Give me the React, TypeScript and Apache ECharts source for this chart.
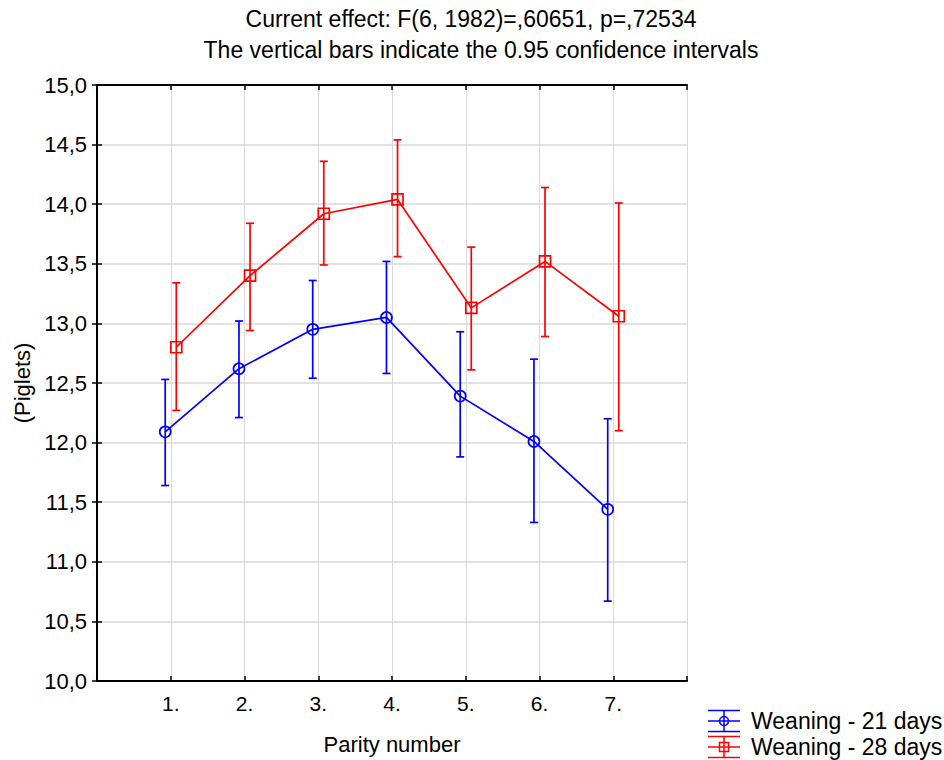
import React, { useEffect, useRef } from "react";
import * as echarts from "echarts";

const parity = [1, 2, 3, 4, 5, 6, 7];
const w21Mean = [12.09, 12.62, 12.95, 13.05, 12.39, 12.01, 11.44];
const w21Low = [11.64, 12.21, 12.54, 12.58, 11.88, 11.33, 10.67];
const w21High = [12.53, 13.02, 13.36, 13.52, 12.93, 12.70, 12.20];
const w28Mean = [12.80, 13.40, 13.92, 14.04, 13.13, 13.52, 13.06];
const w28Low = [12.27, 12.94, 13.49, 13.56, 12.61, 12.89, 12.10];
const w28High = [13.34, 13.84, 14.36, 14.54, 13.64, 14.14, 14.01];
const seriesNames = ["Weaning - 21 days", "Weaning - 28 days"];
const titleLines = [
  "Current effect: F(6, 1982)=,60651, p=,72534",
  "The vertical bars indicate the 0.95 confidence intervals",
];

const FONT = "'Liberation Sans', Arial, sans-serif";
const BLUE = "#0000ff";
const RED = "#ff0000";

export default function App() {
  const ref = useRef<HTMLDivElement>(null);
  useEffect(() => {
    if (!ref.current) return;
    const chart = echarts.init(ref.current, null, { renderer: "svg" });
    const offset = 0.075;
    const mk = (mean: number[], dx: number) => parity.map((p, i) => [p + dx, mean[i]]);
    const mkErr = (lo: number[], hi: number[], dx: number) =>
      parity.map((p, i) => [p + dx, lo[i], hi[i]]);

    const errSeries = (data: number[][], color: string) => ({
      type: "custom",
      data,
      z: 5,
      encode: { x: 0, y: [1, 2] },
      renderItem: (params: any, api: any) => {
        const x = api.value(0);
        const lo = api.coord([x, api.value(1)]);
        const hi = api.coord([x, api.value(2)]);
        const cw = 4;
        const style = { stroke: color, lineWidth: 1.7 };
        return {
          type: "group",
          children: [
            { type: "line", shape: { x1: lo[0], y1: lo[1], x2: hi[0], y2: hi[1] }, style },
            { type: "line", shape: { x1: lo[0] - cw, y1: lo[1], x2: lo[0] + cw, y2: lo[1] }, style },
            { type: "line", shape: { x1: hi[0] - cw, y1: hi[1], x2: hi[0] + cw, y2: hi[1] }, style },
          ],
        };
      },
    });

    const axisCommonX = {
      type: "value",
      min: 0,
      max: 8,
      interval: 1,
      axisLine: { show: true, lineStyle: { color: "#000", width: 2 } },
      axisTick: { show: true, inside: true, length: 5, lineStyle: { color: "#000", width: 1.5 } },
    };
    const axisCommonY = {
      type: "value",
      min: 10,
      max: 15,
      interval: 0.5,
      axisLine: { show: true, lineStyle: { color: "#000", width: 2 } },
      axisTick: { show: true, inside: true, length: 5, lineStyle: { color: "#000", width: 1.5 } },
    };

    const legendY = [721, 747];
    const legendColors = [BLUE, RED];
    const legendGraphics: any[] = [];
    legendColors.forEach((c, i) => {
      const y = legendY[i];
      const st = { stroke: c, lineWidth: 1.5, fill: "none" };
      legendGraphics.push(
        { type: "line", shape: { x1: 708, y1: y, x2: 740, y2: y }, style: st },
        { type: "line", shape: { x1: 708, y1: y - 10.5, x2: 740, y2: y - 10.5 }, style: st },
        { type: "line", shape: { x1: 708, y1: y + 10.5, x2: 740, y2: y + 10.5 }, style: st },
        { type: "line", shape: { x1: 724, y1: y - 10.5, x2: 724, y2: y + 10.5 }, style: st },
        i === 0
          ? { type: "circle", shape: { cx: 724, cy: y, r: 4.5 }, style: st }
          : { type: "rect", shape: { x: 719.5, y: y - 4.5, width: 9, height: 9 }, style: st },
        {
          type: "text",
          x: 751,
          y,
          style: { text: seriesNames[i], font: `23px ${FONT}`, fill: "#000", textVerticalAlign: "middle" },
        }
      );
    });

    chart.setOption({
      animation: false,
      backgroundColor: "#fff",
      title: [
        { text: titleLines[0], left: 466, top: 2, textAlign: "center", textStyle: { fontFamily: FONT, fontSize: 23, fontWeight: "normal", color: "#000" } },
        { text: titleLines[1], left: 476, top: 33, textAlign: "center", textStyle: { fontFamily: FONT, fontSize: 23, fontWeight: "normal", color: "#000" } },
      ],
      grid: { left: 97, top: 85, right: 257, bottom: 79, containLabel: false },
      xAxis: [
        {
          ...axisCommonX,
          position: "bottom",
          name: "Parity number",
          nameLocation: "middle",
          nameGap: 52,
          nameTextStyle: { fontFamily: FONT, fontSize: 22, color: "#000" },
          axisLabel: {
            fontFamily: FONT,
            fontSize: 21,
            color: "#000",
            margin: 12,
            formatter: (v: number) => (v >= 1 && v <= 7 ? `${v}.` : ""),
          },
          splitLine: { show: true, lineStyle: { color: "#d9d9d9", width: 1 } },
        },
        {
          ...axisCommonX,
          position: "top",
          axisLabel: { show: false },
          splitLine: { show: false },
        },
      ],
      yAxis: [
        {
          ...axisCommonY,
          position: "left",
          name: "(Piglets)",
          nameLocation: "middle",
          nameGap: 64,
          nameTextStyle: { fontFamily: FONT, fontSize: 22, color: "#000" },
          axisLabel: {
            fontFamily: FONT,
            fontSize: 22,
            color: "#000",
            margin: 10,
            formatter: (v: number) => v.toFixed(1).replace(".", ","),
          },
          splitLine: { show: true, lineStyle: { color: "#d9d9d9", width: 1.5 } },
        },
        {
          ...axisCommonY,
          position: "right",
          axisLabel: { show: false },
          splitLine: { show: false },
        },
      ],
      series: [
        {
          name: seriesNames[0],
          type: "line",
          data: mk(w21Mean, -offset),
          symbol: "circle",
          symbolSize: 11,
          lineStyle: { color: BLUE, width: 1.7 },
          itemStyle: { color: "rgba(0,0,0,0)", borderColor: BLUE, borderWidth: 1.7 },
          z: 3,
        },
        {
          name: seriesNames[1],
          type: "line",
          data: mk(w28Mean, offset),
          symbol: "rect",
          symbolSize: 11,
          lineStyle: { color: RED, width: 1.7 },
          itemStyle: { color: "rgba(0,0,0,0)", borderColor: RED, borderWidth: 1.7 },
          z: 3,
        },
        errSeries(mkErr(w21Low, w21High, -offset), BLUE),
        errSeries(mkErr(w28Low, w28High, offset), RED),
      ],
      graphic: legendGraphics,
    });
    return () => chart.dispose();
  }, []);
  return (
    <div
      ref={ref}
      style={{ position: "fixed", left: 0, top: 0, width: 944, height: 760 }}
    />
  );
}
